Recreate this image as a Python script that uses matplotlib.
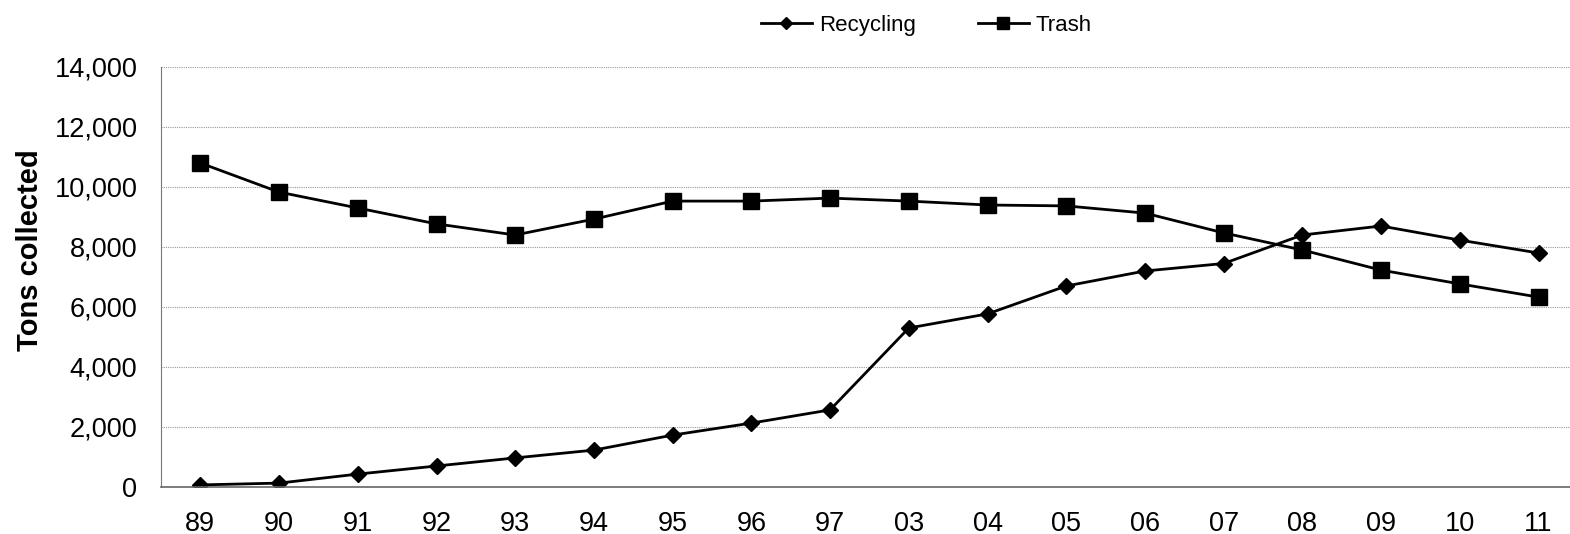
import matplotlib
matplotlib.use("Agg")
import matplotlib.pyplot as plt
from matplotlib.ticker import FuncFormatter

plt.rcParams['font.family'] = ['Liberation Sans', 'DejaVu Sans']

years = ["89", "90", "91", "92", "93", "94", "95", "96", "97",
         "03", "04", "05", "06", "07", "08", "09", "10", "11"]
recycling = [70, 130, 430, 700, 970, 1230, 1730, 2130, 2570,
             5300, 5770, 6700, 7200, 7450, 8400, 8700, 8230, 7800]
trash = [10800, 9830, 9300, 8770, 8400, 8930, 9530, 9530, 9630,
         9530, 9400, 9370, 9130, 8470, 7900, 7230, 6770, 6330]

fig = plt.figure(figsize=(15.7, 5.34), dpi=100)
ax = fig.add_axes([161 / 1570, 47 / 534, 1 - 161 / 1570, 420 / 534])

x = range(len(years))
ax.plot(x, recycling, color='black', lw=2, marker='D', ms=8, label='Recycling')
ax.plot(x, trash, color='black', lw=2, marker='s', ms=11, label='Trash')

ax.set_xlim(-0.5, 17.4)
ax.set_ylim(0, 14000)
ax.set_yticks(range(0, 14001, 2000))
ax.yaxis.set_major_formatter(FuncFormatter(lambda v, p: f"{int(v):,}"))
ax.set_xticks(list(x))
ax.set_xticklabels(years)
ax.tick_params(axis='both', length=0, labelsize=19.5)
ax.tick_params(axis='x', pad=17)
ax.tick_params(axis='y', pad=17)

ax.grid(axis='y', color='#999999', linestyle=(0, (1, 1)), lw=0.8)
ax.set_axisbelow(True)
for s in ['top', 'right']:
    ax.spines[s].set_visible(False)
ax.spines['left'].set_color('#777777')
ax.spines['left'].set_linestyle((0, (1, 1)))
ax.spines['left'].set_linewidth(0.8)
ax.spines['bottom'].set_color('#666666')
ax.spines['bottom'].set_linewidth(1.2)

ax.set_ylabel('Tons collected', fontsize=21, fontweight='bold')
ax.yaxis.set_label_coords(-0.083, 0.565)

leg = fig.legend(loc='upper center', bbox_to_anchor=(0.59, 1.01), ncol=2,
                 frameon=False, fontsize=16, handlelength=2.3, handletextpad=0.3,
                 columnspacing=2.8, markerscale=0.75)

fig.savefig('out.png', dpi=100)
